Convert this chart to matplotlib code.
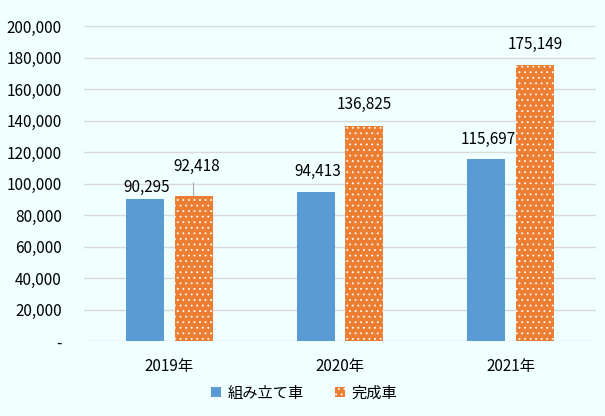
import matplotlib
matplotlib.use('Agg')
import matplotlib.pyplot as plt
from matplotlib.ticker import FuncFormatter
import numpy as np

years = ['2019年', '2020年', '2021年']
series_names = ['組み立て車', '完成車']
assembled = [90295, 94413, 115697]
finished = [92418, 136825, 175149]

# label offsets (points above bar top) as in the original
assembled_off = [2, 9, 8]
finished_off = [15, 9, 9]

plt.rcParams['font.family'] = ['Noto Sans CJK JP', 'DejaVu Sans']
plt.rcParams['hatch.linewidth'] = 0.6
plt.rcParams['hatch.color'] = 'white'

bg = '#F0FFFF'
blue = '#5B9BD5'
orange = '#ED7D31'
fs = 11

fig = plt.figure(figsize=(6.05, 4.16), dpi=100, facecolor=bg)
ax = fig.add_axes([0.1388, 0.1796, 0.8462, 0.7579])
ax.set_facecolor(bg)

x = np.arange(len(years))
w = 0.223
off = 0.142
b1 = ax.bar(x - off, assembled, w, color=blue, label=series_names[0], zorder=3)
b2 = ax.bar(x + off, finished, w, color=orange, edgecolor='white', linewidth=0,
            hatch='...', label=series_names[1], zorder=3)

for xi, v, o in zip(x - off, assembled, assembled_off):
    ax.annotate(f'{v:,}', (xi, v), xytext=(1.5, o), textcoords='offset points',
                ha='center', va='bottom', fontsize=fs, color='black')
for i, (xi, v, o) in enumerate(zip(x + off, finished, finished_off)):
    if i == 0:
        ax.annotate(f'{v:,}', (xi, v), xytext=(2, o), textcoords='offset points',
                    ha='center', va='bottom', fontsize=fs, color='black',
                    arrowprops=dict(arrowstyle='-', color='#A6A6A6', lw=0.8,
                                    relpos=(0.44, 0.15), shrinkA=4, shrinkB=0))
    else:
        ax.annotate(f'{v:,}', (xi, v), xytext=(0, o), textcoords='offset points',
                    ha='center', va='bottom', fontsize=fs, color='black')

ax.set_xlim(-0.5, 2.5)
ax.set_ylim(0, 200000)
ax.set_yticks(np.arange(0, 200001, 20000))
ax.yaxis.set_major_formatter(FuncFormatter(lambda v, p: '-' if v == 0 else f'{int(v):,}'))
ax.set_xticks(x)
ax.set_xticklabels(years)
ax.tick_params(axis='y', length=0, pad=16, labelsize=fs)
ax.tick_params(axis='x', length=0, pad=12, labelsize=fs)
ax.grid(axis='y', color='#D9D9D9', linewidth=1, zorder=0)
for s in ax.spines.values():
    s.set_visible(False)

fig.legend(handles=[b1, b2], loc='center', bbox_to_anchor=(0.503, 0.055), ncol=2,
           frameon=False, fontsize=fs, handlelength=0.65, handleheight=0.65,
           handletextpad=0.45, columnspacing=2.0)

fig.savefig('out.png', dpi=100, facecolor=bg)
